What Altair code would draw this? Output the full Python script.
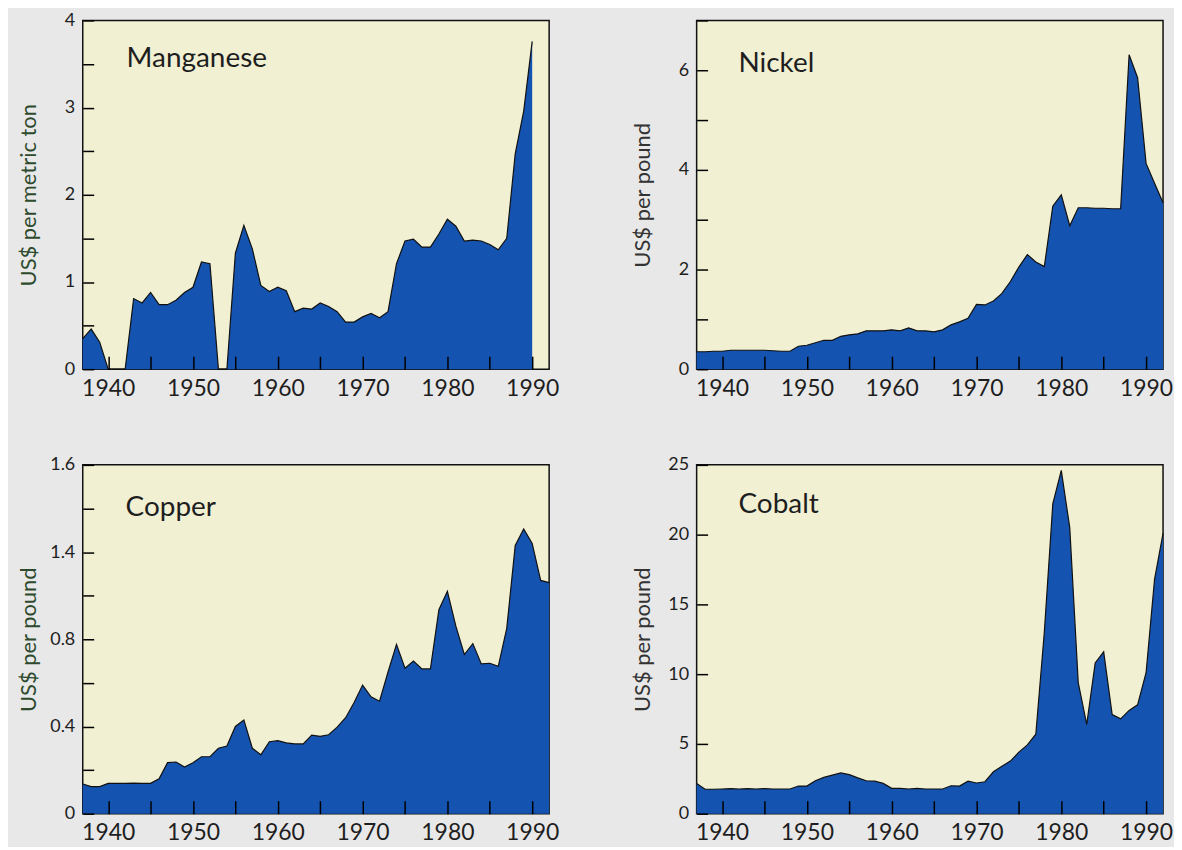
import altair as alt
import pandas as pd

# ---------------- data ----------------
years_mn = list(range(1937, 1991))
years = list(range(1937, 1993))

manganese = [0.35, 0.46, 0.31, 0, 0, 0, 0.81, 0.76, 0.88, 0.74,
             0.74, 0.79, 0.88, 0.94, 1.23, 1.21, 0, 0, 1.33, 1.65,
             1.38, 0.96, 0.89, 0.94, 0.90, 0.66, 0.70, 0.69, 0.76, 0.72,
             0.66, 0.54, 0.54, 0.60, 0.64, 0.59, 0.66, 1.21, 1.47, 1.49,
             1.40, 1.40, 1.55, 1.72, 1.64, 1.47, 1.48, 1.47, 1.43, 1.37,
             1.50, 2.47, 2.96, 3.76]

nickel = [0.35, 0.35, 0.36, 0.36, 0.38, 0.38, 0.38, 0.38, 0.38, 0.37,
          0.36, 0.36, 0.46, 0.48, 0.53, 0.58, 0.58, 0.66, 0.69, 0.71,
          0.77, 0.77, 0.77, 0.79, 0.77, 0.83, 0.77, 0.77, 0.75, 0.79,
          0.89, 0.95, 1.02, 1.30, 1.29, 1.37, 1.52, 1.76, 2.05, 2.30,
          2.15, 2.06, 3.27, 3.50, 2.88, 3.24, 3.24, 3.23, 3.23, 3.22,
          3.22, 6.31, 5.85, 4.13, 3.73, 3.34]

copper = [0.136, 0.124, 0.124, 0.139, 0.139, 0.139, 0.14, 0.139, 0.139, 0.16,
          0.234, 0.237, 0.214, 0.234, 0.261, 0.261, 0.30, 0.31, 0.40, 0.43,
          0.30, 0.27, 0.33, 0.335, 0.325, 0.32, 0.32, 0.36, 0.355, 0.362,
          0.397, 0.44, 0.51, 0.59, 0.536, 0.516, 0.65, 0.777, 0.667, 0.70,
          0.664, 0.664, 0.936, 1.02, 0.86, 0.73, 0.78, 0.687, 0.69, 0.676,
          0.85, 1.23, 1.306, 1.24, 1.07, 1.06]

cobalt = [2.17, 1.75, 1.75, 1.77, 1.8, 1.77, 1.8, 1.77, 1.8, 1.77,
          1.77, 1.77, 1.98, 1.98, 2.36, 2.6, 2.76, 2.92, 2.8, 2.57,
          2.36, 2.33, 2.17, 1.82, 1.82, 1.77, 1.82, 1.77, 1.77, 1.77,
          2.0, 1.98, 2.33, 2.2, 2.29, 3.0, 3.4, 3.77, 4.41, 4.93,
          5.7, 13.0, 22.2, 24.6, 20.5, 9.4, 6.4, 10.8, 11.6, 7.1,
          6.8, 7.4, 7.8, 10.1, 16.8, 20.1]

x_ticks = [1940, 1945, 1950, 1955, 1960, 1965, 1970, 1975, 1980, 1985, 1990]

mn_ticks = [0, 0.5, 1, 1.5, 2, 2.5, 3, 3.5, 4]
mn_labels = ["0", "", "1", "", "2", "", "3", "", "4"]
ni_ticks = [0, 1, 2, 3, 4, 5, 6, 7]
ni_labels = ["0", "", "2", "", "4", "", "6", ""]
cu_ticks = [0, 0.2, 0.4, 0.6, 0.8, 1.0, 1.2, 1.4, 1.6]
cu_labels = ["0", "", "0.4", "", "0.8", "", "1.4", "", "1.6"]
co_ticks = [0, 5, 10, 15, 20, 25]
co_labels = ["0", "5", "10", "15", "20", "25"]

# ---------------- style ----------------
FONT = "Lato"
AREA = "#1553b0"
PLOT_BG = "#f1f0d3"
PAGE_BG = "#e8e8e8"
INK = "#1e1e1e"
W, H = 468, 350


def label_expr(ticks, labels):
    expr = "''"
    for t, l in reversed(list(zip(ticks, labels))):
        expr = f"abs(datum.value - {t}) < 1e-6 ? '{l}' : ({expr})"
    return expr


def panel(name, yrs, vals, ymax, yticks, ylabels, ytitle, tcolor, tdx, toff):
    df = pd.DataFrame({"year": yrs, "value": vals})
    x = alt.X(
        "year:Q",
        scale=alt.Scale(domain=[1937, 1992], nice=False, zero=False),
        axis=alt.Axis(
            values=x_ticks,
            labelExpr="datum.value % 10 == 0 ? '' + datum.value : ''",
            tickSize=13, offset=-13, domain=False, grid=False, ticks=True,
            tickColor="#000000", tickWidth=1.5, tickOpacity=1, labelPadding=8,
            labelFont=FONT, labelFontSize=23, labelColor=INK,
            title=None, zindex=2,
        ),
    )
    y = alt.Y(
        "value:Q",
        scale=alt.Scale(domain=[0, ymax], nice=False),
        axis=alt.Axis(
            values=yticks,
            labelExpr=label_expr(yticks, ylabels),
            tickSize=11, offset=-11, domain=False, grid=False,
            tickColor="#000000", tickWidth=1.5, labelPadding=8,
            labelFont=FONT, labelFontSize=18, labelColor=INK,
            minExtent=45, maxExtent=45,
            title=ytitle, titleFont=FONT, titleFontSize=22,
            titleFontWeight="normal", titleColor=tcolor, titlePadding=8,
            zindex=2,
        ),
    )
    return (
        alt.Chart(df)
        .mark_area(color=AREA, opacity=1,
                   line={"color": "#111111", "strokeWidth": 1.2})
        .encode(x=x, y=y)
        .properties(
            width=W, height=H,
            title=alt.TitleParams(
                name, anchor="start", frame="group", offset=toff, dx=tdx,
                baseline="alphabetic",
                font=FONT, fontSize=28, fontWeight="normal", color=INK,
            ),
        )
    )


mn = panel("Manganese", years_mn, manganese, 4, mn_ticks, mn_labels,
           "US$ per metric ton", "#2d4a2d", 44, -84)
ni = panel("Nickel", years, nickel, 7, ni_ticks, ni_labels,
           "US$ per pound", "#333333", 42, -81)
cu = panel("Copper", years, copper, 1.6, cu_ticks, cu_labels,
           "US$ per pound", "#2d4a2d", 43, -88)
co = panel("Cobalt", years, cobalt, 25, co_ticks, co_labels,
           "US$ per pound", "#333333", 42, -85)

chart = (
    alt.vconcat(
        alt.hconcat(mn, ni, spacing=71),
        alt.hconcat(cu, co, spacing=71),
        spacing=54,
    )
    .properties(padding={"left": 9, "top": 1, "right": 0, "bottom": 0})
    .configure(background=PAGE_BG)
    .configure_view(fill=PLOT_BG, stroke="#111111", strokeWidth=1.5)
)

chart.save("out.html", embed_options={"renderer": "svg", "actions": False})
